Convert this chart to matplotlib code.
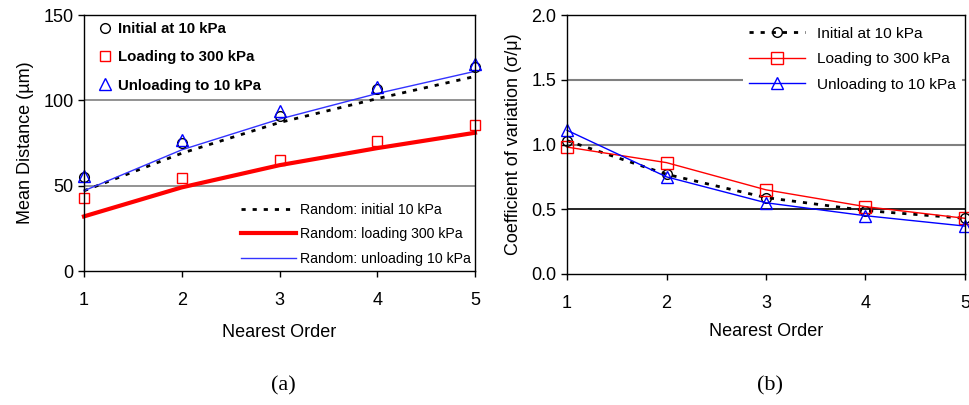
import matplotlib
matplotlib.use("Agg")
import matplotlib.pyplot as plt
from matplotlib.lines import Line2D

plt.rcParams['font.family'] = ['Liberation Sans', 'DejaVu Sans']

order = [1, 2, 3, 4, 5]

# (a) Mean distance (um)
md_initial = [55, 75, 91, 106.5, 119.5]
md_loading = [42.5, 54.5, 65, 76, 85.5]
md_unloading = [55.5, 77, 93.5, 108, 121]
rand_initial = [47, 69, 87, 101, 114]
rand_loading = [32, 49, 62, 72, 81]
rand_unloading = [47, 71, 89, 104, 117]

# (b) Coefficient of variation
cv_initial = [1.03, 0.77, 0.59, 0.49, 0.43]
cv_loading = [0.98, 0.86, 0.65, 0.52, 0.43]
cv_unloading = [1.11, 0.75, 0.55, 0.45, 0.37]

fig = plt.figure(figsize=(9.7, 4.05), dpi=100)

ax1 = fig.add_axes([84/970, 1-271/405, 391/970, 256/405])
ax2 = fig.add_axes([567/970, 1-274/405, 398/970, 259/405])

ms = 7
dotted = (0, (1.5, 2.5))
# ---- left
for y in [50, 100]:
    ax1.axhline(y, color='#808080', lw=1.2, zorder=0)
ax1.plot(order, rand_initial, ls=dotted, color='black', lw=2, clip_on=False)
ax1.plot(order, rand_loading, color='#ff0000', lw=3, clip_on=False)
ax1.plot(order, rand_unloading, color='#3333ff', lw=1, clip_on=False)
ax1.plot(order, md_initial, ls='none', marker='o', mfc='none', mec='black', ms=ms, clip_on=False)
ax1.plot(order, md_loading, ls='none', marker='s', mfc='none', mec='#ff0000', ms=ms, clip_on=False)
ax1.plot(order, md_unloading, ls='none', marker='^', mfc='none', mec='#0000ff', ms=ms+1, clip_on=False)
ax1.set_xlim(1, 5)
ax1.set_ylim(0, 150)
ax1.set_yticks([0, 50, 100, 150])
ax1.set_xticks(order)
ax1.set_ylabel('Mean Distance (\u00b5m)', fontsize=13, labelpad=7)
ax1.set_xlabel('Nearest Order', fontsize=13, labelpad=11)

h1 = [Line2D([], [], ls='none', marker='o', mfc='none', mec='black', ms=ms),
      Line2D([], [], ls='none', marker='s', mfc='none', mec='#ff0000', ms=ms),
      Line2D([], [], ls='none', marker='^', mfc='none', mec='#0000ff', ms=ms+1)]
leg1 = ax1.legend(h1, ['Initial at 10 kPa', 'Loading to 300 kPa', 'Unloading to 10 kPa'],
                  loc='upper left', bbox_to_anchor=(0.005, 1.025), frameon=False,
                  prop={'size': 10.8, 'weight': 'bold'}, handlelength=0.8,
                  handletextpad=0.45, labelspacing=0.95)
ax1.add_artist(leg1)
h2 = [Line2D([], [], ls=dotted, color='black', lw=2),
      Line2D([], [], color='#ff0000', lw=3),
      Line2D([], [], color='#3333ff', lw=1)]
ax1.legend(h2, ['Random: initial 10 kPa', 'Random: loading 300 kPa', 'Random: unloading 10 kPa'],
           loc='lower right', bbox_to_anchor=(1.023, -0.03), frameon=False,
           prop={'size': 10.2}, handlelength=3.9, handletextpad=0.3, labelspacing=0.75)

# ---- right
ax2.axhline(0.5, color='black', lw=1.2, zorder=0)
for y in [1.0, 1.5]:
    ax2.axhline(y, color='#808080', lw=1.5, zorder=0)
ax2.plot(order, cv_initial, ls=dotted, lw=2, color='black', marker='o',
         mfc='none', mec='black', ms=ms, clip_on=False, label='Initial at 10 kPa')
ax2.plot(order, cv_loading, color='#ff0000', lw=1, marker='s', mfc='none', mec='#ff0000',
         ms=ms+1, clip_on=False, label='Loading to 300 kPa')
ax2.plot(order, cv_unloading, color='#0000ff', lw=1, marker='^', mfc='none', mec='#0000ff',
         ms=ms+2, clip_on=False, label='Unloading to 10 kPa')
ax2.set_xlim(1, 5)
ax2.set_ylim(0, 2.0)
ax2.set_yticks([0.0, 0.5, 1.0, 1.5, 2.0])
ax2.set_yticklabels(['0.0', '0.5', '1.0', '1.5', '2.0'])
ax2.set_xticks(order)
ax2.set_ylabel('Coefficient of variation (\u03c3/\u03bc)', fontsize=13, labelpad=7)
ax2.set_xlabel('Nearest Order', fontsize=13, labelpad=8)
leg = ax2.legend(loc='upper right', bbox_to_anchor=(1.005, 0.997), frameon=True, fancybox=False,
                 edgecolor='none', framealpha=1, prop={'size': 11.1}, handlelength=3.6,
                 handletextpad=0.8, labelspacing=0.75, borderaxespad=0.3)

for ax in (ax1, ax2):
    for s in ax.spines.values():
        s.set_color('black')
        s.set_linewidth(1)
    ax.tick_params(axis='both', direction='out', length=4, width=1, labelsize=13, color='black')
    ax.tick_params(axis='x', pad=11)

fig.text(283/970, 1-386/405, '(a)', family='Liberation Serif', fontsize=16, ha='center', va='center')
fig.text(770/970, 1-386/405, '(b)', family='Liberation Serif', fontsize=16, ha='center', va='center')

fig.savefig('out.png', dpi=100)
